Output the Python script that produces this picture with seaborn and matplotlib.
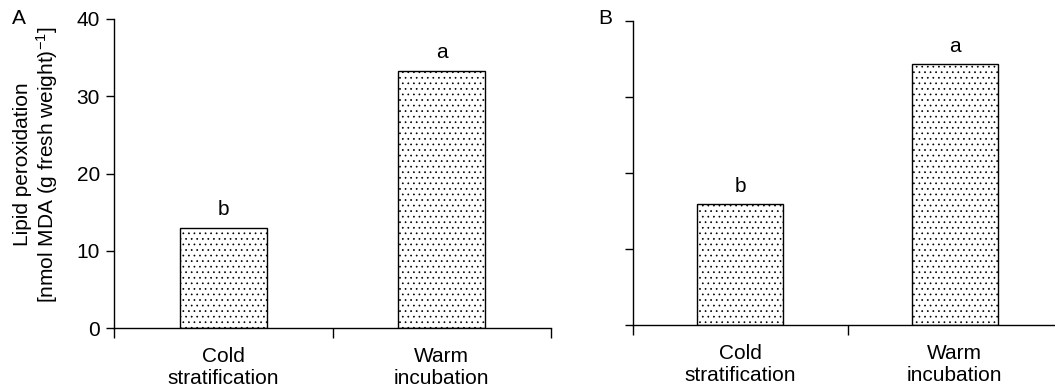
import numpy as np
import matplotlib
matplotlib.use("Agg")
import matplotlib.pyplot as plt
import seaborn as sns

# values
categories = ["Cold\nstratification", "Warm\nincubation"]
panel_a = [13.0, 33.3]
panel_b = [15.9, 34.3]
letters_a = ["b", "a"]
letters_b = ["b", "a"]
y_ticks = [0, 10, 20, 30, 40]

sns.set_style("ticks")
plt.rcParams["font.family"] = ["Liberation Sans", "DejaVu Sans"]
plt.rcParams["mathtext.fontset"] = "custom"
plt.rcParams["mathtext.rm"] = "Liberation Sans"
plt.rcParams["mathtext.it"] = "Liberation Sans:italic"
plt.rcParams["hatch.linewidth"] = 0.5
plt.rcParams["hatch.color"] = "#444444"
for k in ["text.color", "axes.labelcolor", "xtick.color", "ytick.color", "axes.edgecolor"]:
    plt.rcParams[k] = "black"

FS = 15

fig = plt.figure(figsize=(10.55, 3.88), dpi=100)
W, H = 1055, 388
ax_a = fig.add_axes([114 / W, (H - 328) / H, 437 / W, 309 / H])
ax_b = fig.add_axes([633 / W, (H - 325) / H, 429 / W, 304 / H])


def draw(ax, vals, letters, show_labels):
    sns.barplot(x=categories, y=vals, ax=ax, color="white", edgecolor="black",
                linewidth=1.0, width=0.4, saturation=1)
    for p in ax.patches:
        p.set_hatch("...")
        p.set_facecolor("white")
    ax.set_xlim(-0.5, 1.5)
    ax.set_ylim(0, 40)
    ax.set_yticks(y_ticks)
    ax.set_xticks([0, 1])
    ax.set_xticks([-0.5, 0.5, 1.5], minor=True)
    ax.tick_params(axis="x", which="major", length=0, labelsize=FS, pad=14)
    ax.tick_params(axis="x", which="minor", length=7, width=1, direction="out")
    ax.tick_params(axis="y", length=6, width=1, direction="out", labelsize=FS, pad=4)
    for lab in ax.get_xticklabels():
        lab.set_linespacing(1.15)
    if not show_labels:
        ax.set_yticklabels([])
    for s in ["top", "right"]:
        ax.spines[s].set_visible(False)
    for s in ["left", "bottom"]:
        ax.spines[s].set_linewidth(1.0)
    for i, (v, t) in enumerate(zip(vals, letters)):
        ax.annotate(t, (i, v), xytext=(0, 9), textcoords="offset points",
                    ha="center", va="baseline", fontsize=FS)
    ax.set_xlabel("")


draw(ax_a, panel_a, letters_a, True)
draw(ax_b, panel_b, letters_b, False)

ax_a.set_ylabel("Lipid peroxidation\n[nmol MDA (g fresh weight)$^{-1}$]",
                fontsize=FS, linespacing=1.1)
ax_a.yaxis.set_label_coords(-0.124, 0.53)

fig.text(12 / W, 1 - 18 / H, "A", fontsize=FS, ha="left", va="center")
fig.text(598 / W, 1 - 18 / H, "B", fontsize=FS, ha="left", va="center")

fig.savefig("out.png", dpi=100)
